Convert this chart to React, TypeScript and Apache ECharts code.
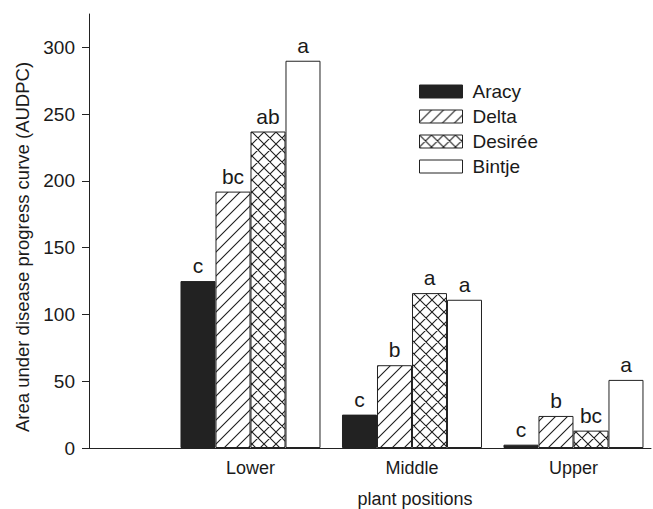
import React, { useEffect, useRef } from 'react';
import * as echarts from 'echarts';

const positions = ['Lower', 'Middle', 'Upper'];
const positionX = [1, 2, 3];
const cultivars = ['Aracy', 'Delta', 'Desirée', 'Bintje'];
const aracy = [125, 25, 2.5];
const delta = [192, 62, 24];
const desiree = [237, 116, 13];
const bintje = [290, 111, 51];
const aracyLetters = ['c', 'c', 'c'];
const deltaLetters = ['bc', 'b', 'b'];
const desireeLetters = ['ab', 'a', 'bc'];
const bintjeLetters = ['a', 'a', 'a'];
const yTicks = [0, 50, 100, 150, 200, 250, 300];

const FONT = '"Liberation Sans", Arial, Helvetica, sans-serif';
const INK = '#1a1a1a';

function hatch(cross: boolean) {
  const s = 12;
  const c = document.createElement('canvas');
  c.width = s;
  c.height = s;
  const ctx = c.getContext('2d')!;
  ctx.fillStyle = '#ffffff';
  ctx.fillRect(0, 0, s, s);
  ctx.strokeStyle = '#1e1e1e';
  ctx.lineWidth = 1.1;
  ctx.beginPath();
  ctx.moveTo(-2, s + 2);
  ctx.lineTo(s + 2, -2);
  ctx.moveTo(-2, 2);
  ctx.lineTo(2, -2);
  ctx.moveTo(s - 2, s + 2);
  ctx.lineTo(s + 2, s - 2);
  if (cross) {
    ctx.moveTo(-2, -2);
    ctx.lineTo(s + 2, s + 2);
    ctx.moveTo(-2, s - 2);
    ctx.lineTo(2, s + 2);
    ctx.moveTo(s - 2, -2);
    ctx.lineTo(s + 2, 2);
  }
  ctx.stroke();
  return { image: c, repeat: 'repeat', imageWidth: s, imageHeight: s } as any;
}

export default function App() {
  const ref = useRef<HTMLDivElement>(null);
  useEffect(() => {
    if (!ref.current) return;
    const chart = echarts.init(ref.current, undefined, { renderer: 'svg' });
    const values = [aracy, delta, desiree, bintje];
    const letters = [aracyLetters, deltaLetters, desireeLetters, bintjeLetters];
    const fills: any[] = ['#222222', hatch(false), hatch(true), '#ffffff'];
    const series = cultivars.map((name, si) => ({
      name,
      type: 'bar',
      barWidth: 35,
      barGap: '0%',
      data: positionX.map((x, i) => [x, values[si][i]]),
      itemStyle: { color: fills[si], borderColor: '#222', borderWidth: 1 },
      label: {
        show: true,
        position: 'top',
        distance: 5,
        fontSize: 21,
        fontFamily: FONT,
        color: INK,
        formatter: (p: any) => letters[si][p.dataIndex],
      },
    }));
    chart.setOption({
      animation: false,
      backgroundColor: '#ffffff',
      grid: { left: 89, right: 2, top: 14, bottom: 61 },
      legend: {
        orient: 'vertical',
        left: 414,
        top: 77,
        itemWidth: 43,
        itemHeight: 13,
        itemGap: 6,
        icon: 'rect',
        data: cultivars,
        itemStyle: { borderColor: '#222', borderWidth: 1 },
        textStyle: { fontSize: 19, fontFamily: FONT, color: INK, padding: [0, 0, 0, 5] },
      },
      xAxis: {
        type: 'value',
        min: 0,
        max: 3.48,
        splitLine: { show: false },
        axisLine: { show: true, lineStyle: { color: '#222', width: 1 } },
        axisTick: { show: false },
        axisLabel: {
          customValues: positionX,
          formatter: (v: number) => {
            const i = positionX.indexOf(v);
            return i >= 0 ? positions[i] : '';
          },
          fontSize: 18,
          fontFamily: FONT,
          color: INK,
          margin: 11,
        },
      },
      yAxis: {
        type: 'value',
        min: 0,
        max: 325,
        splitLine: { show: false },
        axisLine: { show: true, lineStyle: { color: '#222', width: 1 } },
        axisTick: { show: true, length: 7, customValues: yTicks, lineStyle: { color: '#222' } },
        axisLabel: {
          customValues: yTicks,
          fontSize: 19,
          fontFamily: FONT,
          color: INK,
          margin: 14,
        },
      },
      graphic: [
        {
          type: 'text',
          x: 22,
          y: 247,
          rotation: Math.PI / 2,
          style: {
            text: 'Area under disease progress curve (AUDPC)',
            fontSize: 18.5,
            fontFamily: FONT,
            fill: INK,
            align: 'center',
            verticalAlign: 'middle',
          },
        },
        {
          type: 'text',
          x: 415,
          y: 499,
          style: {
            text: 'plant positions',
            fontSize: 18,
            fontFamily: FONT,
            fill: INK,
            align: 'center',
            verticalAlign: 'middle',
          },
        },
      ],
      series,
    });
    return () => chart.dispose();
  }, []);
  return <div ref={ref} style={{ width: 653, height: 509, position: 'absolute', left: 0, top: 0 }} />;
}
